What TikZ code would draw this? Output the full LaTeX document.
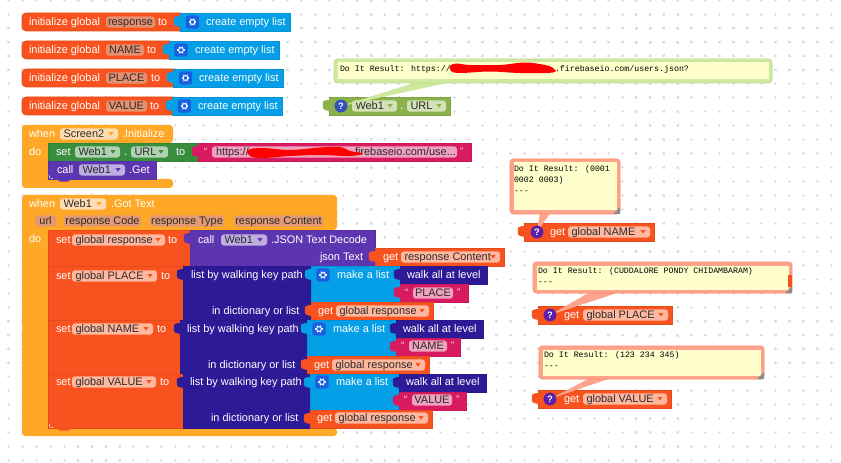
\documentclass[tikz,border=0pt]{standalone}
\usepackage{fontspec}
\setmainfont{Liberation Sans}
\newfontfamily\monofnt{Liberation Mono}
\usetikzlibrary{calc}
\definecolor{cOrange}{HTML}{F8531E}
\definecolor{cBlue}{HTML}{049FE6}
\definecolor{cYellow}{HTML}{FFA726}
\definecolor{cGreen}{HTML}{388E3C}
\definecolor{cPurple}{HTML}{5E35B1}
\definecolor{cNavy}{HTML}{2C1A96}
\definecolor{cPink}{HTML}{D81B60}
\definecolor{cLime}{HTML}{8BB24A}
\definecolor{fName}{HTML}{E39170}
\definecolor{fOrange}{HTML}{FFB8A0}
\definecolor{fYellow}{HTML}{FFDDB0}
\definecolor{fGreen}{HTML}{AFD2B1}
\definecolor{fPurple}{HTML}{BFAEE2}
\definecolor{fLime}{HTML}{D2E2B6}
\definecolor{fPink}{HTML}{F0A3BF}
\definecolor{fParam}{HTML}{E39A72}
\definecolor{cmSalmon}{HTML}{FFA48C}
\definecolor{cmSalmonD}{HTML}{FB8A6A}
\definecolor{cmGreen}{HTML}{CFE8A0}
\definecolor{cmGreenD}{HTML}{BEDC8A}
\definecolor{cmPaper}{HTML}{FFFFCC}
\definecolor{txtDark}{HTML}{2B2B2B}
\definecolor{iconBlue}{HTML}{3350B8}
\definecolor{iconViolet}{HTML}{5E1FA8}
\definecolor{iconGear}{HTML}{1A5FE0}
\tikzset{
  blockbox/.style={anchor=north west,inner sep=0pt,outer sep=0pt,line width=0.4pt},
  fieldbox/.style={anchor=west,inner sep=0pt,outer sep=0pt,rounded corners=2.2pt,minimum height=8.4pt},
  lbl/.style={anchor=west,inner sep=0pt,outer sep=0pt,text height=6.5pt,text depth=0.7pt,font=\fontsize{8.2}{9}\selectfont},
  monotxt/.style={anchor=west,inner sep=0pt,outer sep=0pt,text height=5.2pt,text depth=0.9pt,font=\monofnt\fontsize{6.2}{7}\selectfont,text=black},
  griddot/.style={fill=black!13},
  commentbox/.style={anchor=north west,inner sep=0pt,outer sep=0pt,rounded corners=2.5pt,line width=0.5pt},
  paperbox/.style={anchor=north west,inner sep=0pt,outer sep=0pt,fill=cmPaper},
  iconq/.style={circle,inner sep=0pt,outer sep=0pt,minimum size=9.5pt,font=\bfseries\fontsize{7}{7}\selectfont,text=white},
  icongear/.style={rectangle,rounded corners=1.8pt,inner sep=0pt,outer sep=0pt,minimum size=9.8pt,fill=iconGear},
}
\newcount\nn
\newcommand\uid{\global\advance\nn by 1 }
% name, x1, y1, x2, y2, colour
\newcommand\bk[6]{\node[blockbox,fill=#6,draw=#6!92!black,minimum width={(#4-#2)*0.75pt},minimum height={(#5-#3)*0.75pt}] (#1) at (#2,#3) {};}
\newcommand\bkr[6]{\node[blockbox,rounded corners=3pt,fill=#6,draw=#6!92!black,minimum width={(#4-#2+5)*0.75pt},minimum height={(#5-#3)*0.75pt}] (#1) at (#2,#3) {};}
\newcommand\tx[3]{\uid\node[lbl,text=white,name=t\the\nn] at (#1,#2) {#3};}
% x1,x2,yc,fill,text,triangle colour
\newcommand\fd[6]{\uid\node[fieldbox,fill=#4,minimum width={(#2-#1)*0.75pt},name=f\the\nn] at (#1,#3) {};
  \node[lbl,text=txtDark,name=ft\the\nn] at ({#1+3.5},#3) {#5};
  \fill[#6] ({#2-9.5},{#3-1.8}) -- ({#2-4.5},{#3-1.8}) -- ({#2-7},{#3+1.6}) -- cycle;}
% x1,x2,yc,fill,text: plain name field, centred text
\newcommand\fn[5]{\uid\node[fieldbox,fill=#4,minimum width={(#2-#1)*0.75pt},name=f\the\nn] at (#1,#3) {};
  \node[lbl,text=txtDark,anchor=center,name=ft\the\nn] at (f\the\nn.center) {#5};}
% socket tab: x,y(top of block),colour
\newcommand\tabb[3]{\begin{scope}[shift={(#1,#2)}]
  \fill[#3] (1,3) -- (-3,3.3) .. controls (-6,3.6) and (-6.2,5) .. (-6.2,6.5) -- (-6.2,10) .. controls (-6.2,12) and (-5,13) .. (-3,13.3) -- (1,14) -- cycle;
  \end{scope}}
\newcommand\bump[3]{\fill[#3] ({#1-7},#2) -- ({#1-4},{#2+2.6}) -- ({#1+4},{#2+2.6}) -- ({#1+7},#2) -- cycle;}
% name,x,yc
\newcommand\gearicon[3]{\node[icongear] (#1) at (#2,#3) {};
  \begin{scope}[shift={(#2,#3)}]
   \draw[white!90!cyan,line width=0.8pt] (0,0) circle (2.4);
   \foreach \a in {0,60,...,300}{\draw[white!90!cyan,line width=0.8pt] (\a:2.5) -- (\a:3.9);}
  \end{scope}}
% name,x,yc,colour
\newcommand\qicon[4]{\node[iconq,fill=#4] (#1) at (#2,#3) {?};}
% comment: name,x1,y1,x2,y2,fill,draw
\newcommand\cm[7]{\node[commentbox,fill=#6,draw=#7,minimum width={(#4-#2)*0.75pt},minimum height={(#5-#3)*0.75pt}] (#1) at (#2,#3) {};
  \node[paperbox,minimum width={(#4-#2-7)*0.75pt},minimum height={(#5-#3-7)*0.75pt}] (#1p) at ({#2+3.5},{#3+3.5}) {};}
\newcommand\grip[2]{\fill[black!45] (#1,#2) -- ({#1-7},#2) -- (#1,{#2-7}) -- cycle;}
\begin{document}
\begin{tikzpicture}[x=0.75pt,y=-0.75pt]
\useasboundingbox (0,0) rectangle (841,463);
\fill[white] (0,0) rectangle (841,463);
% workspace grid
\foreach \i in {0,...,59}{\foreach \j in {0,...,33}{
  \fill[griddot] ({8.3+13.95*\i-1.5},{0.2+13.95*\j-0.6}) rectangle +(3,1.2);
  \fill[griddot] ({8.3+13.95*\i-0.6},{0.2+13.95*\j-1.5}) rectangle +(1.2,3);
}}
% ---------- initialize rows
\bkr{ir1}{22}{13}{180}{31}{cOrange}
\bk{il1}{180}{13}{290}{31}{cBlue}\tabb{180}{13}{cBlue}
\tx{29}{22}{initialize global}\fn{106}{155}{22}{fName}{response}\tx{158}{22}{to}
\gearicon{g1}{192.5}{22}\tx{206}{22}{create empty list}

\bkr{ir2}{22}{41}{169}{59}{cOrange}
\bk{il2}{169}{41}{279}{59}{cBlue}\tabb{169}{41}{cBlue}
\tx{29}{50}{initialize global}\fn{106}{144}{50}{fName}{NAME}\tx{147}{50}{to}
\gearicon{g2}{181}{50}\tx{195}{50}{create empty list}

\bkr{ir3}{22}{69}{173}{87}{cOrange}
\bk{il3}{173}{69}{283}{87}{cBlue}\tabb{173}{69}{cBlue}
\tx{29}{78}{initialize global}\fn{106}{147}{78}{fName}{PLACE}\tx{151}{78}{to}
\gearicon{g3}{185.5}{78}\tx{199}{78}{create empty list}

\bkr{ir4}{22}{97}{172}{115}{cOrange}
\bk{il4}{172}{97}{282}{115}{cBlue}\tabb{172}{97}{cBlue}
\tx{29}{106}{initialize global}\fn{106}{147}{106}{fName}{VALUE}\tx{150}{106}{to}
\gearicon{g4}{184.5}{106}\tx{198}{106}{create empty list}

% ---------- when Screen2.Initialize
\fill[cYellow,rounded corners=2.5pt] (22,125) -- (173,125) -- (173,143) -- (48,143) -- (48,179) -- (173,179) -- (173,188) -- (22,188) -- cycle;
\tx{29}{134}{when}\fd{60}{118}{134}{fYellow}{Screen2}{cYellow}\tx{122}{134}{.Initialize}
\tx{29}{152}{do}
\bk{setUrl}{48}{143}{198}{161}{cGreen}
\tx{56}{152}{set}\fd{75}{120}{152}{fGreen}{Web1}{cGreen}\tx{124}{152}{.}
\fd{131}{168}{152}{fGreen}{URL}{cGreen}\tx{176}{152}{to}
\bk{urlStr}{198}{143.5}{471}{161}{cPink}\tabb{198}{143}{cPink}
\fn{212}{457}{152}{fPink}{}
\node[lbl,text=txtDark,name=urlA] at (216,152) {https://};
\node[lbl,text=txtDark,name=urlB] at (355,152) {firebaseio.com/use...};
\tx{204}{151}{\fontsize{7}{7}\selectfont“}\tx{460}{151}{\fontsize{7}{7}\selectfont”}
\fill[red] plot[smooth cycle,tension=0.6] coordinates {(248,150) (262,148) (290,150) (320,147.5) (340,147) (350,151) (363,153.5) (350,156) (320,155) (290,156) (262,158) (250,156)};
\bk{callGet}{48}{161}{156}{179}{cPurple}\bump{64}{179}{cPurple}
\tx{57}{170}{call}\fd{79}{125}{170}{fPurple}{Web1}{cPurple}\tx{129}{170}{.Get}
\draw[white,line width=0.35pt] (49,175) .. controls (49,178) and (50,178.6) .. (53,178.6);

% ---------- when Web1.Got Text
\fill[cYellow,rounded corners=2.5pt] (22,195) -- (337,195) -- (337,230) -- (48,230) -- (48,428) -- (337,428) -- (337,436) -- (22,436) -- cycle;
\tx{29}{204}{when}\fd{60}{106}{204}{fYellow}{Web1}{cYellow}\tx{111}{204}{.Got Text}
\fn{35}{56}{221}{fParam}{url}
\fn{64}{141}{221}{fParam}{response Code}
\fn{150}{224}{221}{fParam}{response Type}
\fn{234}{323}{221}{fParam}{response Content}
\tx{29}{239}{do}

% set global response
\bk{setResp}{48}{230}{190}{266}{cOrange}
\tx{56}{240}{set}\fd{72}{165}{240}{fOrange}{global response}{cOrange}\tx{168}{240}{to}
\bk{decode}{190}{230}{375}{266}{cPurple}\tabb{190}{230}{cPurple}
\tx{198}{240}{call}\fd{221}{267}{240}{fPurple}{Web1}{cPurple}\tx{271}{240}{.JSON Text Decode}
\tx{320}{257}{json Text}
\bk{getCont}{375}{248}{504}{266}{cOrange}\tabb{375}{248}{cOrange}
\tx{383}{257}{get}\fd{401}{500}{257}{fOrange}{response Content}{cOrange}

% set global PLACE
\bk{setPlace}{48}{266}{183}{320}{cOrange}
\tx{56}{276}{set}\fd{72}{157}{276}{fOrange}{global PLACE}{cOrange}\tx{161}{276}{to}
\bk{walkP}{183}{266}{311}{320}{cNavy}\tabb{183}{266}{cNavy}
\tx{191}{275}{list by walking key path}\tx{212}{311}{in dictionary or list}
\bk{listP}{311}{266}{400}{302}{cBlue}\tabb{311}{266}{cBlue}
\gearicon{gP}{323}{275}\tx{337}{275}{make a list}
\bk{wP}{400}{266}{487}{284}{cNavy}\tabb{400}{266}{cNavy}\tx{407}{275}{walk all at level}
\bk{sP}{400}{284}{468}{302}{cPink}\tabb{400}{284}{cPink}
\fn{413}{453}{293}{fPink}{PLACE}\tx{405}{292}{\fontsize{7}{7}\selectfont“}\tx{457}{292}{\fontsize{7}{7}\selectfont”}
\bk{gP2}{311}{302}{433}{320}{cOrange}\tabb{311}{302}{cOrange}
\tx{318}{311}{get}\fd{336}{429}{311}{fOrange}{global response}{cOrange}

% set global NAME
\bk{setName}{48}{320}{180}{374}{cOrange}
\tx{56}{329}{set}\fd{72}{153}{329}{fOrange}{global NAME}{cOrange}\tx{157}{329}{to}
\bk{walkN}{180}{320}{307}{374}{cNavy}\tabb{180}{320}{cNavy}
\tx{187}{329}{list by walking key path}\tx{208}{365}{in dictionary or list}
\bk{listN}{307}{320}{396}{356}{cBlue}\tabb{307}{320}{cBlue}
\gearicon{gN}{319}{329}\tx{333}{329}{make a list}
\bk{wN}{396}{320}{483}{338}{cNavy}\tabb{396}{320}{cNavy}\tx{403}{329}{walk all at level}
\bk{sN}{396}{338}{460}{356}{cPink}\tabb{396}{338}{cPink}
\fn{409}{447}{346}{fPink}{NAME}\tx{401}{345}{\fontsize{7}{7}\selectfont“}\tx{451}{345}{\fontsize{7}{7}\selectfont”}
\bk{gN2}{307}{356}{429}{374}{cOrange}\tabb{307}{356}{cOrange}
\tx{314}{365}{get}\fd{332}{425}{365}{fOrange}{global response}{cOrange}

% set global VALUE
\bk{setValue}{48}{374}{183}{428}{cOrange}\bump{64}{428}{cOrange}
\tx{56}{382}{set}\fd{72}{156}{382}{fOrange}{global VALUE}{cOrange}\tx{160}{382}{to}
\bk{walkV}{183}{374}{310}{428}{cNavy}\tabb{183}{374}{cNavy}
\tx{190}{382}{list by walking key path}\tx{211}{418}{in dictionary or list}
\bk{listV}{310}{374}{399}{410}{cBlue}\tabb{310}{374}{cBlue}
\gearicon{gV}{322}{382}\tx{336}{382}{make a list}
\bk{wV}{399}{374}{486}{392}{cNavy}\tabb{399}{374}{cNavy}\tx{406}{382}{walk all at level}
\bk{sV}{399}{392}{466}{410}{cPink}\tabb{399}{392}{cPink}
\fn{412}{452}{400}{fPink}{VALUE}\tx{404}{399}{\fontsize{7}{7}\selectfont“}\tx{456}{399}{\fontsize{7}{7}\selectfont”}
\bk{gV2}{310}{410}{432}{428}{cOrange}\tabb{310}{410}{cOrange}
\tx{317}{418}{get}\fd{335}{428}{418}{fOrange}{global response}{cOrange}
\draw[white,line width=0.35pt] (49,424) .. controls (49,427) and (50,427.6) .. (53,427.6);

% ---------- Web1.URL with comment
\bk{qUrl}{329}{97}{450}{115}{cLime}\tabb{329}{97}{cLime}
\fd{352}{397}{106}{fLime}{Web1}{cLime}\tx{400}{106}{.}\fd{407}{446}{106}{fLime}{URL}{cLime}
\qicon{qi0}{341}{106}{iconBlue}
\coordinate (a0) at (420,81); \coordinate (b0) at (456,81);
\fill[cmGreen] (a0) -- (b0) -- (qi0.center) -- cycle;
\qicon{qi0}{341}{106}{iconBlue}
\cm{c0}{334}{59}{772}{83}{cmGreen}{cmGreenD}
\node[monotxt,name=c0a] at (340,68.5) {Do It Result: https://};
\node[monotxt,name=c0b] at (555,68.5) {.firebaseio.com/users.json?};
\fill[red] plot[smooth cycle,tension=0.6] coordinates {(450,66) (456,63.5) (470,65) (500,65) (525,62.5) (545,65) (553,68) (553,72.5) (520,73) (490,71.5) (460,73) (451,71)};

% ---------- get global NAME with comment
\bk{qName}{524}{223}{654}{241}{cOrange}\tabb{524}{223}{cOrange}
\tx{550}{232}{get}\fd{568}{650}{232}{fOrange}{global NAME}{cOrange}
\coordinate (a1) at (540,212); \coordinate (b1) at (551,212);
\qicon{qi1}{537}{232}{iconViolet}
\fill[cmSalmon] (a1) -- (b1) -- (qi1.center) -- cycle;
\qicon{qi1}{537}{232}{iconViolet}
\cm{c1}{510}{159}{620}{214}{cmSalmon}{cmSalmonD}\grip{620}{214}
\node[monotxt,name=c1a] at (514,169) {Do It Result: (0001};
\node[monotxt,name=c1b] at (514,180) {0002 0003)};
\node[monotxt,name=c1c] at (514,191) {-{}-{}-};

% ---------- get global PLACE with comment
\bk{qPlace}{538}{306}{672}{324}{cOrange}\tabb{538}{306}{cOrange}
\tx{564}{315}{get}\fd{583}{668}{315}{fOrange}{global PLACE}{cOrange}
\coordinate (a2) at (590,292); \coordinate (b2) at (620,292);
\qicon{qi2}{550}{315}{iconViolet}
\fill[cmSalmon] (a2) -- (b2) -- (qi2.center) -- cycle;
\qicon{qi2}{550}{315}{iconViolet}
\cm{c2}{533}{262}{792}{293}{cmSalmon}{cmSalmonD}\grip{792}{293}
\fill[cOrange] (788,275) rectangle (792,287);
\node[monotxt,name=c2a] at (538,271) {Do It Result: (CUDDALORE PONDY CHIDAMBARAM)};
\node[monotxt,name=c2b] at (538,282) {-{}-{}-};

% ---------- get global VALUE with comment
\bk{qValue}{538}{390}{671}{408}{cOrange}\tabb{538}{390}{cOrange}
\tx{564}{399}{get}\fd{583}{667}{399}{fOrange}{global VALUE}{cOrange}
\coordinate (a3) at (590,378); \coordinate (b3) at (611,378);
\qicon{qi3}{550}{399}{iconViolet}
\fill[cmSalmon] (a3) -- (b3) -- (qi3.center) -- cycle;
\qicon{qi3}{550}{399}{iconViolet}
\cm{c3}{539}{346}{764}{379}{cmSalmon}{cmSalmonD}\grip{764}{379}
\node[monotxt,name=c3a] at (544,355) {Do It Result: (123 234 345)};
\node[monotxt,name=c3b] at (544,366) {-{}-{}-};
\end{tikzpicture}
\end{document}
